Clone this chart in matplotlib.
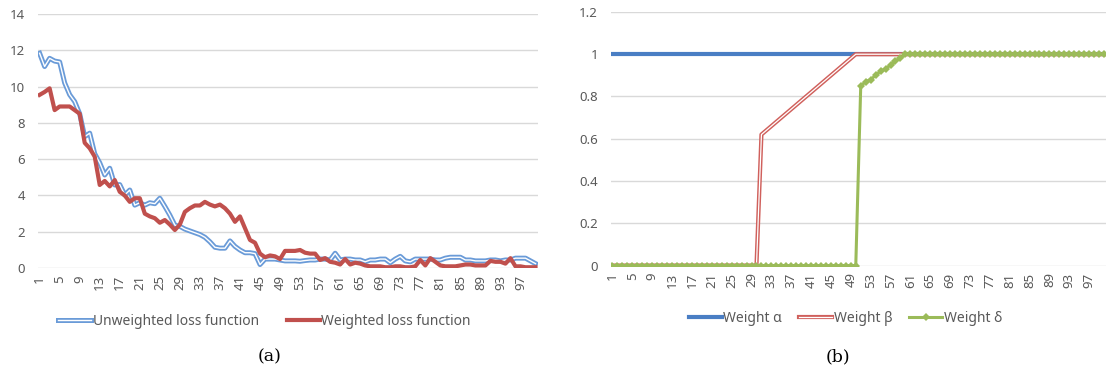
#!/usr/bin/env python
# coding: utf-8

import matplotlib.pyplot as plt
import matplotlib.patheffects as pe

epochs = list(range(1, 101))

unweighted_loss = [
    11.83, 11.1, 11.55, 11.4, 11.35, 10.2, 9.55, 9.17, 8.5, 7.24,
    7.43, 6.3, 5.8, 5.13, 5.5, 4.58, 4.6, 4.03, 4.3, 3.47,
    3.6, 3.47, 3.6, 3.55, 3.85, 3.4, 2.92, 2.37, 2.3, 2.15,
    2.05, 1.95, 1.85, 1.7, 1.45, 1.15, 1.1, 1.1, 1.5, 1.2,
    1.0, 0.85, 0.85, 0.8, 0.2, 0.5, 0.5, 0.5, 0.45, 0.4,
    0.4, 0.4, 0.38, 0.42, 0.45, 0.45, 0.5, 0.5, 0.45, 0.82,
    0.45, 0.5, 0.5, 0.45, 0.45, 0.35, 0.45, 0.45, 0.5, 0.5,
    0.3, 0.5, 0.65, 0.4, 0.35, 0.5, 0.5, 0.5, 0.5, 0.45,
    0.45, 0.55, 0.6, 0.6, 0.6, 0.45, 0.45, 0.4, 0.4, 0.4,
    0.45, 0.45, 0.4, 0.45, 0.45, 0.55, 0.55, 0.55, 0.4, 0.25,
]

weighted_loss = [
    9.54, 9.7, 9.9, 8.7, 8.9, 8.9, 8.9, 8.7, 8.5, 6.9,
    6.6, 6.14, 4.58, 4.8, 4.5, 4.85, 4.2, 4.0, 3.65, 3.85,
    3.85, 3.0, 2.85, 2.75, 2.5, 2.65, 2.4, 2.1, 2.4, 3.1,
    3.3, 3.45, 3.45, 3.65, 3.5, 3.4, 3.5, 3.3, 3.0, 2.55,
    2.85, 2.2, 1.55, 1.4, 0.8, 0.6, 0.7, 0.65, 0.5, 0.95,
    0.95, 0.95, 1.0, 0.85, 0.8, 0.8, 0.45, 0.55, 0.35, 0.3,
    0.2, 0.5, 0.2, 0.3, 0.25, 0.15, 0.1, 0.1, 0.1, 0.05,
    0.05, 0.1, 0.1, 0.05, 0.05, 0.1, 0.45, 0.15, 0.55, 0.35,
    0.15, 0.1, 0.1, 0.1, 0.15, 0.2, 0.2, 0.15, 0.15, 0.15,
    0.4, 0.35, 0.35, 0.25, 0.55, 0.1, 0.1, 0.05, 0.05, 0.05,
]

weight_alpha = [1.0] * 100

weight_beta = (
    [0.0] * 30
    + [0.62, 0.64, 0.66, 0.68, 0.70, 0.72, 0.74, 0.76, 0.78, 0.80,
       0.82, 0.84, 0.86, 0.88, 0.90, 0.92, 0.94, 0.96, 0.98, 1.0]
    + [1.0] * 50
)

weight_delta = (
    [0.0] * 50
    + [0.85, 0.87, 0.88, 0.90, 0.92, 0.93, 0.95, 0.97, 0.98, 1.0]
    + [1.0] * 40
)

tick_epochs = list(range(1, 101, 4))

plt.rcParams['font.family'] = ['Noto Sans', 'DejaVu Sans']

grey_text = '#595959'
grid_col = '#D9D9D9'


def style_axes(ax, ymax, ystep, fmt):
    for s in ax.spines.values():
        s.set_visible(False)
    yt = [round(i * ystep, 2) for i in range(int(round(ymax / ystep)) + 1)]
    ax.set_yticks(yt)
    ax.set_yticklabels([fmt(v) for v in yt])
    ax.set_ylim(0, ymax)
    ax.set_xlim(0.6, 100.4)
    ax.set_xticks(tick_epochs)
    ax.set_xticklabels([str(t) for t in tick_epochs], rotation=90)
    ax.tick_params(length=0, labelsize=9.5, colors=grey_text)
    ax.tick_params(axis='y', pad=9)
    ax.tick_params(axis='x', pad=5)
    ax.yaxis.grid(True, color=grid_col, linewidth=1)
    ax.set_axisbelow(True)


fig = plt.figure(figsize=(11.06, 3.74), dpi=100)

# (a) loss curves
ax1 = fig.add_axes([0.034, 0.283, 0.452, 0.68])
ax1.plot(epochs, unweighted_loss, color='white', linewidth=1.0,
         path_effects=[pe.Stroke(linewidth=3.6, foreground='#6A9BD8'), pe.Normal()],
         label='Unweighted loss function')
ax1.plot(epochs, weighted_loss, color='#C0504D', linewidth=3.0,
         label='Weighted loss function')
style_axes(ax1, 14, 2, lambda v: '%d' % v)
ax1.legend(loc='upper center', bbox_to_anchor=(0.454, -0.13), ncol=2, frameon=False,
           fontsize=10, labelcolor=grey_text, handlelength=2.4, handletextpad=0.1,
           columnspacing=2.0)

# (b) weights
ax2 = fig.add_axes([0.552, 0.29, 0.448, 0.678])
ax2.plot(epochs, weight_alpha, color='#4A7EC4', linewidth=3.0, label='Weight α')
ax2.plot(epochs, weight_beta, color='white', linewidth=0.9,
         path_effects=[pe.Stroke(linewidth=3.0, foreground='#D0605C'), pe.Normal()],
         label='Weight β')
ax2.plot(epochs, weight_delta, color='#9BBB59', linewidth=2.2, marker='D',
         markersize=4.2, markeredgewidth=0, label='Weight δ')
style_axes(ax2, 1.2, 0.2, lambda v: '%g' % v)
ax2.legend(loc='upper center', bbox_to_anchor=(0.474, -0.13), ncol=3, frameon=False,
           fontsize=10, labelcolor=grey_text, handlelength=2.4, handletextpad=0.1,
           columnspacing=1.2)

fig.text(0.244, 0.045, '(a)', ha='center', va='center', fontsize=12.5,
         family='DejaVu Serif')
fig.text(0.758, 0.045, '(b)', ha='center', va='center', fontsize=12.5,
         family='DejaVu Serif')

fig.savefig('out.png', dpi=100)
